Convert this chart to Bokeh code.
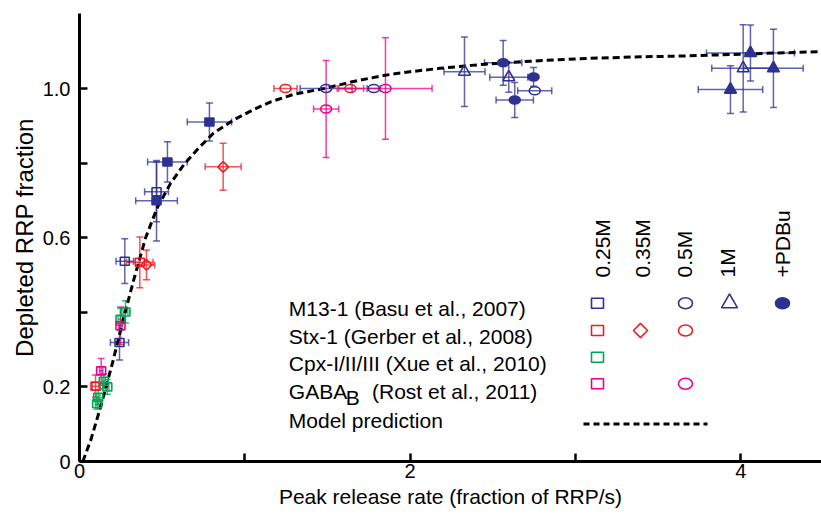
import math
from bokeh.plotting import figure
from bokeh.models import ColumnDataSource, Whisker, TeeHead, Label, FixedTicker, Range1d
from bokeh.embed import file_html
from bokeh.resources import INLINE

FONT = "Liberation Sans"

# ---------------- data ----------------
x_ticks = [0, 1, 2, 3, 4]
x_tick_labels = ["0", "", "2", "", "4"]
y_ticks = [0, 0.2, 0.4, 0.6, 0.8, 1.0]
y_tick_labels = ["0", "0.2", "", "0.6", "", "1.0"]

# model prediction curve
model_x = [0.02, 0.07, 0.13, 0.20, 0.27, 0.33, 0.40, 0.47, 0.55, 0.63, 0.72, 0.81, 0.93,
           1.05, 1.16, 1.30, 1.48, 1.65, 1.84, 2.00, 2.18, 2.37, 2.57, 2.80, 3.09, 3.40,
           3.64, 4.00, 4.49]
model_y = [0.0, 0.06, 0.15, 0.265, 0.39, 0.49, 0.60, 0.68, 0.745, 0.795, 0.84, 0.88, 0.915,
           0.943, 0.965, 0.985, 1.0, 1.018, 1.035, 1.045, 1.054, 1.062, 1.069, 1.075, 1.081,
           1.085, 1.087, 1.092, 1.099]

# M13-1 (Basu et al., 2007)
basu_x = [0.274, 0.242, 0.466, 0.466, 0.532, 0.786, 1.492, 1.780, 2.754, 2.329, 2.597, 4.015,
          2.563, 2.747, 2.633, 4.059, 4.198, 3.938]
basu_y = [0.537, 0.319, 0.723, 0.699, 0.803, 0.910, 1.0, 1.0, 0.994, 1.045, 1.030, 1.054,
          1.069, 1.031, 0.969, 1.095, 1.054, 0.997]
basu_xerr = [0.053, 0.055, 0.072, 0.126, 0.12, 0.134, 0.157, 0.04, 0.103, 0.124, 0.115, 0.19,
             0.113, 0.0, 0.113, 0.266, 0.18, 0.195]
basu_yerr = [0.06, 0.047, 0.08, 0.108, 0.054, 0.051, 0.0, 0.0, 0.0, 0.093, 0.04, 0.117,
             0.06, 0.025, 0.047, 0.075, 0.105, 0.064]
basu_cond = ["0.25M", "0.25M", "0.25M", "0.25M+PDBu", "0.25M+PDBu", "0.25M+PDBu",
             "0.5M", "0.5M", "0.5M", "1M", "1M", "1M", "+PDBu", "+PDBu", "+PDBu",
             "1M+PDBu", "1M+PDBu", "1M+PDBu"]

# Stx-1 (Gerber et al., 2008)
gerber_x = [0.365, 0.097, 0.405, 0.869, 1.246, 1.639]
gerber_y = [0.534, 0.202, 0.527, 0.790, 1.0, 1.0]
gerber_xerr = [0.08, 0.02, 0.05, 0.109, 0.07, 0.08]
gerber_yerr = [0.068, 0.03, 0.04, 0.063, 0.0, 0.0]
gerber_cond = ["0.25M", "0.25M", "0.35M", "0.35M", "0.5M", "0.5M"]

# Cpx-I/II/III (Xue et al., 2010)
xue_x = [0.278, 0.248, 0.147, 0.168, 0.113, 0.107]
xue_y = [0.401, 0.381, 0.215, 0.200, 0.172, 0.155]
xue_xerr = [0.015, 0.015, 0.01, 0.01, 0.01, 0.01]
xue_yerr = [0.03, 0.03, 0.02, 0.02, 0.02, 0.015]
xue_cond = ["0.25M"] * 6

# GABA_B (Rost et al., 2011)
rost_x = [0.248, 0.131, 1.851, 1.492]
rost_y = [0.364, 0.243, 1.0, 0.945]
rost_xerr = [0.01, 0.01, 0.282, 0.076]
rost_yerr = [0.05, 0.033, 0.136, 0.13]
rost_cond = ["0.25M", "0.25M", "0.5M", "0.5M"]

legend_columns = ["0.25M", "0.35M", "0.5M", "1M", "+PDBu"]
legend_rows = [
    ("M13-1 (Basu et al., 2007)", ["0.25M", "0.5M", "1M", "+PDBu"]),
    ("Stx-1 (Gerber et al., 2008)", ["0.25M", "0.35M", "0.5M"]),
    ("Cpx-I/II/III (Xue et al., 2010)", ["0.25M"]),
    ("GABA|B|(Rost et al., 2011)", ["0.25M", "0.5M"]),
]
model_label = "Model prediction"

# ---------------- styles ----------------
BLUE = "#2E3192"
RED = "#ED1C24"
GREEN = "#00A651"
MAGENTA = "#EC008C"

datasets = [
    (basu_x, basu_y, basu_xerr, basu_yerr, basu_cond, BLUE),
    (gerber_x, gerber_y, gerber_xerr, gerber_yerr, gerber_cond, RED),
    (xue_x, xue_y, xue_xerr, xue_yerr, xue_cond, GREEN),
    (rost_x, rost_y, rost_xerr, rost_yerr, rost_cond, MAGENTA),
]
row_colors = [BLUE, RED, GREEN, MAGENTA]

# marker shape / fill for each condition
cond_style = {
    "0.25M": ("square", False),
    "0.25M+PDBu": ("square", True),
    "0.35M": ("diamond", False),
    "0.5M": ("circle", False),
    "1M": ("triangle", False),
    "+PDBu": ("circle", True),
    "1M+PDBu": ("triangle", True),
}

W, H = 821, 514
LEFT, TOP, BOTTOM = 79, 13, 53
frame_w = W - LEFT
frame_h = H - TOP - BOTTOM
XPX = 165.3   # px per x unit
YPX = 373.0   # px per y unit

p = figure(width=W, height=H, output_backend="svg", toolbar_location=None,
           x_range=Range1d(0, frame_w / XPX), y_range=Range1d(0, frame_h / YPX),
           min_border_left=LEFT, min_border_right=0, min_border_top=TOP,
           min_border_bottom=BOTTOM)
p.outline_line_color = None
p.grid.visible = False
p.background_fill_color = "white"
p.border_fill_color = "white"


def px2x(px):
    return (px - LEFT) / XPX


def py2y(py):
    return (H - BOTTOM - py) / YPX


def draw_marker(xs, ys, kind, filled, color, big=False):
    fc = color if filled else None
    lw = 1.6
    if kind == "circle":
        w, h = (14, 11) if big else (11, 8)
        p.ellipse(x=xs, y=ys, width=w, height=h, width_units="screen", height_units="screen",
                  line_color=color, line_width=lw, fill_color=fc)
    elif kind == "square":
        w, h = (12, 10) if big else (9, 8)
        p.rect(x=xs, y=ys, width=w, height=h, width_units="screen", height_units="screen",
               line_color=color, line_width=lw, fill_color=fc)
    elif kind == "diamond":
        s = 10 if big else 7.5
        p.rect(x=xs, y=ys, width=s, height=s, width_units="screen", height_units="screen",
               angle=math.pi / 4, line_color=color, line_width=lw, fill_color=fc)
    elif kind == "triangle":
        s = 16 if big else 12
        p.scatter(x=xs, y=ys, marker="triangle", size=s, line_color=color, line_width=lw,
                  fill_color=fc)


# model curve
p.line(model_x, model_y, line_color="black", line_width=3, line_dash="7 4")

# error bars
for xs, ys, xe, ye, cond, color in datasets:
    vx = [(x, y, e) for x, y, e in zip(xs, ys, ye) if e > 0]
    if vx:
        src = ColumnDataSource(dict(b=[v[0] for v in vx], lo=[v[1] - v[2] for v in vx],
                                    hi=[v[1] + v[2] for v in vx]))
        p.add_layout(Whisker(source=src, base="b", lower="lo", upper="hi", dimension="height",
                             line_color=color, line_width=1.5, line_alpha=0.75,
                             upper_head=TeeHead(size=7, line_color=color, line_width=1.5, line_alpha=0.75),
                             lower_head=TeeHead(size=7, line_color=color, line_width=1.5, line_alpha=0.75)))
    hx = [(x, y, e) for x, y, e in zip(xs, ys, xe) if e > 0]
    if hx:
        src = ColumnDataSource(dict(b=[v[1] for v in hx], lo=[v[0] - v[2] for v in hx],
                                    hi=[v[0] + v[2] for v in hx]))
        p.add_layout(Whisker(source=src, base="b", lower="lo", upper="hi", dimension="width",
                             line_color=color, line_width=1.5, line_alpha=0.75,
                             upper_head=TeeHead(size=7, line_color=color, line_width=1.5, line_alpha=0.75),
                             lower_head=TeeHead(size=7, line_color=color, line_width=1.5, line_alpha=0.75)))

# markers
for xs, ys, xe, ye, cond, color in datasets:
    for c, (kind, filled) in cond_style.items():
        sx = [x for x, k in zip(xs, cond) if k == c]
        sy = [y for y, k in zip(ys, cond) if k == c]
        if sx:
            draw_marker(sx, sy, kind, filled, color)

# ---------------- legend ----------------
col_px = [597, 640, 685, 729, 782]
col_label_px = [601.5, 641.5, 683.5, 727, 781.5]
row_py = [302.7, 330, 356.7, 383.3]
text_base_py = [308, 335.5, 363.3, 391]
TXT = 288.3
leg_font = "21px"

for name, cx in zip(legend_columns, col_label_px):
    p.add_layout(Label(x=px2x(cx), y=py2y(277), text=name, angle=math.pi / 2,
                       text_align="left", text_baseline="middle", text_font=FONT,
                       text_font_size=leg_font, text_color="black"))

for (name, conds), ry, by, color in zip(legend_rows, row_py, text_base_py, row_colors):
    if "|" in name:
        main, sub, rest = name.split("|")
        p.add_layout(Label(x=px2x(TXT), y=py2y(by), text=main, text_align="left",
                           text_baseline="alphabetic", text_font=FONT,
                           text_font_size=leg_font, text_color="black"))
        p.add_layout(Label(x=px2x(TXT + 57), y=py2y(by + 5.5), text=sub, text_align="left",
                           text_baseline="alphabetic", text_font=FONT,
                           text_font_size=leg_font, text_color="black"))
        p.add_layout(Label(x=px2x(371.5), y=py2y(by), text=rest, text_align="left",
                           text_baseline="alphabetic", text_font=FONT,
                           text_font_size=leg_font, text_color="black"))
    else:
        p.add_layout(Label(x=px2x(TXT), y=py2y(by), text=name, text_align="left",
                           text_baseline="alphabetic", text_font=FONT,
                           text_font_size=leg_font, text_color="black"))
    for c in conds:
        i = legend_columns.index(c)
        kind, filled = cond_style[c]
        draw_marker([px2x(col_px[i])], [py2y(ry)], kind, filled, color, big=True)

p.add_layout(Label(x=px2x(TXT), y=py2y(420), text=model_label, text_align="left",
                   text_baseline="alphabetic", text_font=FONT, text_font_size=leg_font,
                   text_color="black"))
p.line([px2x(583), px2x(707)], [py2y(423.5), py2y(423.5)], line_color="black",
       line_width=3, line_dash="6 4")

# ---------------- axes ----------------
p.xaxis.ticker = FixedTicker(ticks=x_ticks)
p.yaxis.ticker = FixedTicker(ticks=y_ticks)
p.xaxis.major_label_overrides = {t: l for t, l in zip(x_ticks, x_tick_labels)}
p.yaxis.major_label_overrides = {t: l for t, l in zip(y_ticks, y_tick_labels)}
p.xaxis.axis_label = "Peak release rate (fraction of RRP/s)"
p.yaxis.axis_label = "Depleted RRP fraction"
for ax in (p.xaxis, p.yaxis):
    ax.axis_line_width = 3
    ax.axis_line_color = "black"
    ax.major_tick_in = 8
    ax.major_tick_out = 0
    ax.major_tick_line_width = 2.5
    ax.major_tick_line_color = "black"
    ax.minor_tick_line_color = None
    ax.major_label_text_font = FONT
    ax.major_label_text_font_size = "20px"
    ax.major_label_text_color = "black"
    ax.axis_label_text_font = FONT
    ax.axis_label_text_font_style = "normal"
    ax.axis_label_text_color = "black"
p.xaxis.axis_label_text_font_size = "21px"
p.yaxis.axis_label_text_font_size = "24px"
p.xaxis.major_label_standoff = 2
p.xaxis.axis_label_standoff = 4
p.yaxis.major_label_standoff = 9
p.yaxis.axis_label_standoff = 2

open("out.html", "w").write(file_html(p, INLINE))
